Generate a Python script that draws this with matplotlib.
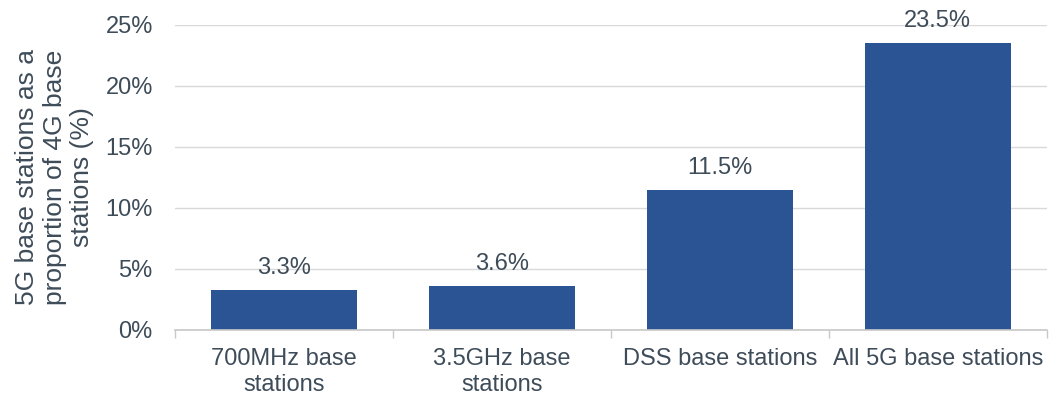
import matplotlib
matplotlib.use("Agg")
import matplotlib.pyplot as plt
from matplotlib.ticker import FixedLocator, PercentFormatter

categories = ["700MHz base\nstations", "3.5GHz base\nstations", "DSS base stations", "All 5G base stations"]
values = [3.3, 3.6, 11.5, 23.5]
yticks = [0, 5, 10, 15, 20, 25]

plt.rcParams["font.family"] = ["Liberation Sans", "DejaVu Sans"]
text_color = "#3E4C59"
bar_color = "#2B5494"
fs = 17

fig = plt.figure(figsize=(10.5, 3.96), dpi=100)
ax = fig.add_axes([0.1667, 0.1667, 0.8303, 0.7702])

x = list(range(len(categories)))
bars = ax.bar(x, values, width=0.67, color=bar_color, zorder=3)

for xi, v in zip(x, values):
    ax.annotate(f"{v:.1f}%", (xi, v), xytext=(0, 8), textcoords="offset points",
                ha="center", va="bottom", fontsize=fs, color=text_color)

ax.set_xlim(-0.5, len(categories) - 0.5)
ax.set_ylim(0, 25)
ax.set_yticks(yticks)
ax.yaxis.set_major_formatter(PercentFormatter(decimals=0))
ax.grid(axis="y", color="#D9D9D9", linewidth=1, zorder=0)
ax.set_axisbelow(True)

ax.set_xticks(x)
ax.set_xticklabels(categories, fontsize=fs, color=text_color, linespacing=1.25)
ax.xaxis.set_minor_locator(FixedLocator([i - 0.5 for i in range(len(categories) + 1)]))
ax.tick_params(axis="x", which="major", length=0, pad=13)
ax.tick_params(axis="x", which="minor", length=6, color="#C8C8C8", width=1)
ax.tick_params(axis="y", length=0, labelsize=fs, labelcolor=text_color, pad=16)

for side in ("top", "right", "left"):
    ax.spines[side].set_visible(False)
ax.spines["bottom"].set_color("#C8C8C8")
ax.spines["bottom"].set_linewidth(1.2)
ax.spines["bottom"].set_zorder(4)

ax.set_ylabel("5G base stations as a\nproportion of 4G base\nstations (%)", fontsize=19,
              color=text_color, linespacing=1.2, labelpad=8)

fig.savefig("out.png", dpi=100)
